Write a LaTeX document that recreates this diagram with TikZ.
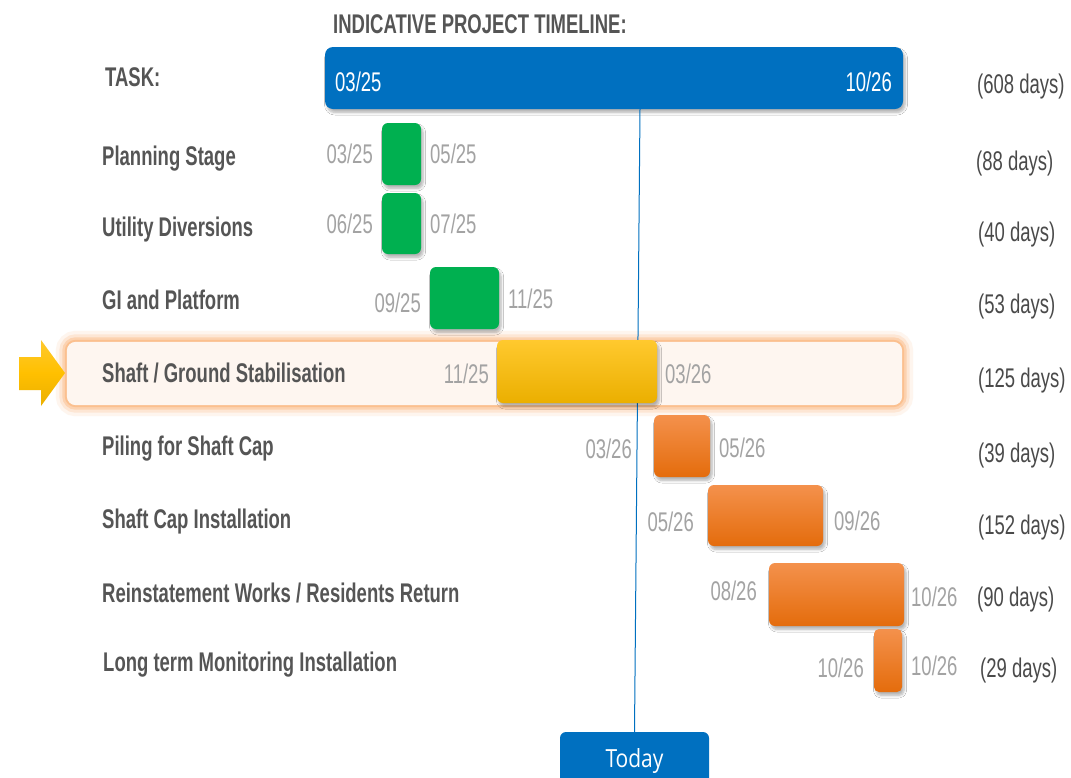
\documentclass[tikz,border=0pt]{standalone}
\usepackage{fontspec}
\usetikzlibrary{shadows.blur}
\newfontfamily\gNarrow[FakeStretch=0.685]{Liberation Sans}
\newfontfamily\gToday[FakeStretch=0.84]{Open Sans}
\newcommand\gLblFont{\gNarrow\bfseries\fontsize{27pt}{30pt}\selectfont}
\newcommand\gDateFont{\gNarrow\fontsize{27pt}{30pt}\selectfont}
\definecolor{lblgray}{HTML}{555555}
\definecolor{dategray}{HTML}{A3A3A3}
\definecolor{daygray}{HTML}{4A4A4A}
\definecolor{tblue}{HTML}{0070C0}
\definecolor{tgreen}{HTML}{00B050}
\definecolor{otop}{HTML}{F4914C}
\definecolor{omid}{HTML}{F57E1F}
\definecolor{obot}{HTML}{E46C0C}
\definecolor{ytop}{HTML}{FFC92E}
\definecolor{ymid}{HTML}{FFC000}
\definecolor{ybot}{HTML}{EBAF00}
\definecolor{glowc}{HTML}{FBB47A}
\definecolor{bandfill}{HTML}{FEF6F0}
\tikzset{
  lbl/.style={anchor=base west, inner sep=0pt, text=lblgray, font=\gLblFont},
  datel/.style={anchor=base east, inner sep=0pt, text=dategray, font=\gDateFont},
  dater/.style={anchor=base west, inner sep=0pt, text=dategray, font=\gDateFont},
  days/.style={anchor=base west, inner sep=0pt, text=daygray, font=\gDateFont},
  shad/.style={blur shadow={shadow xshift=2pt, shadow yshift=-3.5pt, shadow blur radius=2.5pt, shadow blur steps=6, shadow opacity=30}},
  barbase/.style={rectangle, rounded corners=6pt, inner sep=0pt, shad},
  greenbar/.style={barbase, fill=tgreen},
  orangebar/.style={barbase, top color=otop, middle color=omid, bottom color=obot},
  yellowbar/.style={barbase, top color=ytop, middle color=ymid, bottom color=ybot},
}
\begin{document}
\begin{tikzpicture}[x=1pt, y=-1pt]
\useasboundingbox (0,0) rectangle (1071,777);
\fill[white] (0,0) rectangle (1071,777);
\clip (0,0) rectangle (1071,777);

% title
\node[lbl] (title) at (333,33) {INDICATIVE PROJECT TIMELINE:};
\node[lbl] (task) at (105,86) {TASK:};

% highlight band with glow
\node[rectangle, rounded corners=9pt, minimum width=835pt, minimum height=63pt, inner sep=0pt] (hl) at (484.5,373.5) {};
\draw[glowc, line width=22pt, opacity=0.12, rounded corners=9pt] (hl.south west) rectangle (hl.north east);
\draw[glowc, line width=15pt, opacity=0.22, rounded corners=9pt] (hl.south west) rectangle (hl.north east);
\draw[glowc, line width=9pt, opacity=0.4, rounded corners=9pt] (hl.south west) rectangle (hl.north east);
\draw[glowc, line width=4pt, opacity=0.6, rounded corners=9pt] (hl.south west) rectangle (hl.north east);
\fill[bandfill, rounded corners=9pt] (hl.south west) rectangle (hl.north east);

% arrow
\shade[top color=ytop, bottom color=ybot, middle color=ymid]
  (19,357) -- (41,357) -- (41,340) -- (65,373) -- (41,406) -- (41,390) -- (19,390) -- cycle;

% overall task bar
\node[rectangle, rounded corners=8pt, fill=tblue, minimum width=578pt, minimum height=62pt, inner sep=0pt, shad] (taskbar) at (614,78) {};
\node[anchor=base west, inner sep=0pt, text=white, font=\gDateFont] (tstart) at (335,91) {03/25};
\node[anchor=base east, inner sep=0pt, text=white, font=\gDateFont] (tend) at (892,91) {10/26};
\node[days] (d0) at (977,93) {(608 days)};

% today line and box
\node[rectangle, rounded corners=6pt, fill=tblue, minimum width=149pt, minimum height=60pt, inner sep=0pt] (today) at (634.5,762) {};
\node[anchor=base, inner sep=0pt, text=white, font=\gToday\fontsize{25pt}{28pt}\selectfont] (todaytxt) at (634.5,767) {Today};
\coordinate (tl) at (640,109);
\draw[tblue, line width=1pt] (tl) -- (today.north);

% rows
\node[lbl] (l1) at (102,165) {Planning Stage};
\node[greenbar, minimum width=39pt, minimum height=62pt] (b1) at (401.5,154) {};
\node[datel] (s1) at (373,163) {03/25};
\node[dater] (e1) at (430,163) {05/25};
\node[days] (d1) at (976,170) {(88 days)};

\node[lbl] (l2) at (102,236) {Utility Diversions};
\node[greenbar, minimum width=39pt, minimum height=61pt] (b2) at (401.5,223.5) {};
\node[datel] (s2) at (373,233) {06/25};
\node[dater] (e2) at (430,233) {07/25};
\node[days] (d2) at (978,241) {(40 days)};

\node[lbl] (l3) at (102,309) {GI and Platform};
\node[greenbar, minimum width=69pt, minimum height=62pt] (b3) at (464.5,298) {};
\node[datel] (s3) at (421,312) {09/25};
\node[dater] (e3) at (508,308) {11/25};
\node[days] (d3) at (978,313) {(53 days)};

\node[lbl] (l4) at (102,382) {Shaft / Ground Stabilisation};
\node[yellowbar, minimum width=160pt, minimum height=63pt] (b4) at (577,371.5) {};
\node[datel] (s4) at (489,383) {11/25};
\node[dater] (e4) at (665,383) {03/26};
\node[days] (d4) at (978,387) {(125 days)};

\node[lbl] (l5) at (102,455) {Piling for Shaft Cap};
\node[orangebar, minimum width=56pt, minimum height=62pt] (b5) at (682,446) {};
\node[datel] (s5) at (632,458) {03/26};
\node[dater] (e5) at (719,457) {05/26};
\node[days] (d5) at (978,462) {(39 days)};

\node[lbl] (l6) at (102,528) {Shaft Cap Installation};
\node[orangebar, minimum width=115pt, minimum height=61pt] (b6) at (765.5,515.5) {};
\node[datel] (s6) at (694,531) {05/26};
\node[dater] (e6) at (834,530) {09/26};
\node[days] (d6) at (978,534) {(152 days)};

\node[lbl] (l7) at (102,602) {Reinstatement Works / Residents Return};
\node[orangebar, minimum width=135pt, minimum height=63pt] (b7) at (836.5,594.5) {};
\node[datel] (s7) at (757,600) {08/26};
\node[dater] (e7) at (911,606) {10/26};
\node[days] (d7) at (977,606) {(90 days)};

\node[lbl] (l8) at (103,671) {Long term Monitoring Installation};
\node[orangebar, rounded corners=5pt, minimum width=28pt, minimum height=63pt] (b8) at (888,660.5) {};
\node[datel] (s8) at (864,677) {10/26};
\node[dater] (e8) at (911,675) {10/26};
\node[days] (d8) at (980,677) {(29 days)};
\end{tikzpicture}
\end{document}
